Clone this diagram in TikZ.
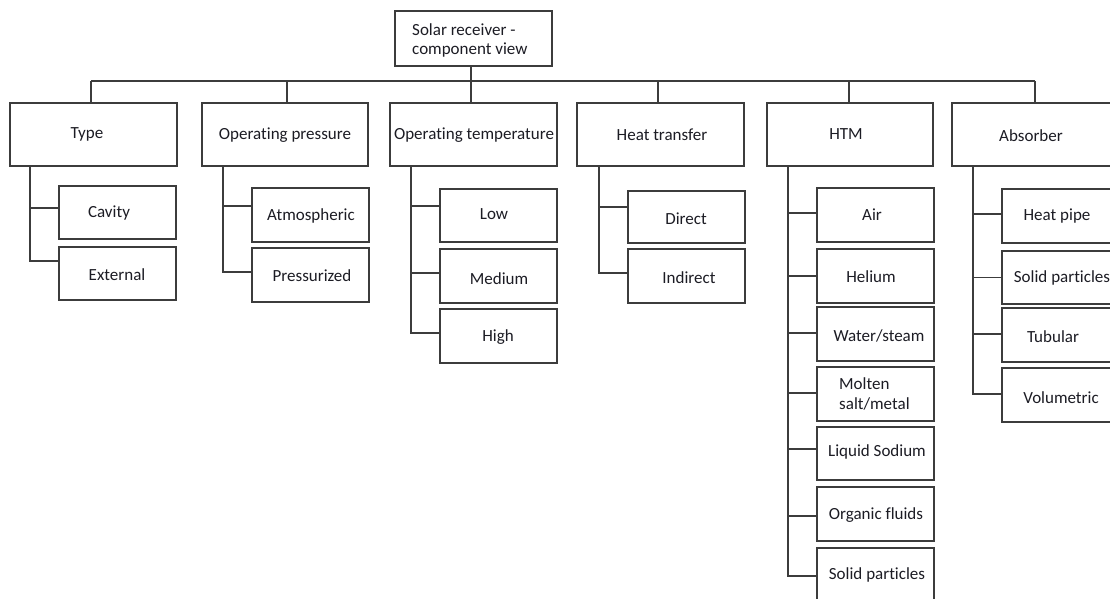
\documentclass[tikz,border=0pt]{standalone}
\usepackage{fontspec}
\setmainfont{Carlito}[Ligatures=NoCommon]
\definecolor{txtc}{RGB}{28,28,36}
\definecolor{lnc}{RGB}{60,60,60}
\begin{document}
\begin{tikzpicture}[x=1pt,y=-1pt,
  box/.style={draw=lnc, line width=1.3pt, inner sep=0pt, outer sep=0pt},
  lvl/.style={box, minimum width=167pt, minimum height=63pt},
  leaf/.style={box, minimum width=117pt},
  lbl/.style={text=txtc, font=\fontsize{17}{19.5}\selectfont, inner sep=0pt, align=center, yshift=-1.5pt},
  link/.style={draw=lnc, line width=1.3pt}]
\useasboundingbox (0,0) rectangle (1110,599);
\clip (0,0) rectangle (1110,599);
\fill[white] (0,0) rectangle (1110,599);

% root
\node[box, minimum width=157pt, minimum height=55pt] (root) at (473.5,38.5) {};
\node[lbl, align=left, anchor=west] (rootT) at (412,39) {Solar receiver -\\component view};

% level 1
\node[lvl] (type)  at (93.5,134.5) {};
\node[lvl, minimum width=166pt] (press) at (285,134.5) {};
\node[lvl] (temp)  at (473.5,134.5) {};
\node[lvl] (heat)  at (660.5,134.5) {};
\node[lvl, minimum width=166pt] (htm) at (850,134.5) {};
\node[lvl, minimum width=168pt] (abs) at (1036,134.5) {};

\node[lbl] (typeT)  at (87,133) {Type};
\node[lbl] (pressT) at (285,134) {Operating pressure};
\node[lbl] (tempT)  at (474,134) {Operating temperature};
\node[lbl] (heatT)  at (662,133) {Heat transfer};
\node[lbl] (htmT)   at (846,133) {HTM};
\node[lbl] (absT)   at (1031,134) {Absorber};

% bus
\coordinate (busL) at (91,81);
\coordinate (busR) at (1035,81);
\draw[link] (busL) -- (busR);
\draw[link] ([xshift=-2.5pt]root.south) -- ([xshift=-2.5pt]root.south |- busL);
\draw[link] ([xshift=-2.5pt]type.north) -- ([xshift=-2.5pt]type.north |- busL);
\draw[link] ([xshift=2pt]press.north) -- ([xshift=2pt]press.north |- busL);
\draw[link] ([xshift=-2.5pt]temp.north) -- ([xshift=-2.5pt]temp.north |- busL);
\draw[link] ([xshift=-2.5pt]heat.north) -- ([xshift=-2.5pt]heat.north |- busL);
\draw[link] ([xshift=-1pt]htm.north) -- ([xshift=-1pt]htm.north |- busL);
\draw[link] ([xshift=-1pt]abs.north) -- ([xshift=-1pt]abs.north |- busL);

% Type children
\node[leaf, minimum height=53pt] (cav) at (117.5,212.5) {};
\node[leaf, minimum height=53pt] (ext) at (117.5,273.5) {};
\node[lbl] (cavT) at (109,212) {Cavity};
\node[lbl] (extT) at (117,273) {External};
\draw[link] ([xshift=20pt]type.south west) |- ([yshift=4.5pt]cav.west);
\draw[link] ([xshift=20pt]type.south west) |- ([yshift=12.5pt]ext.west);

% Pressure children
\node[leaf, minimum height=54pt] (atm) at (310.5,215) {};
\node[leaf, minimum height=54pt] (prs) at (310.5,275) {};
\node[lbl] (atmT) at (311,214) {Atmospheric};
\node[lbl] (prsT) at (312,274) {Pressurized};
\draw[link] ([xshift=21pt]press.south west) |- ([yshift=9pt]atm.west);
\draw[link] ([xshift=21pt]press.south west) |- ([yshift=3pt]prs.west);

% Temperature children
\node[leaf, minimum height=53pt] (low) at (498.5,215.5) {};
\node[leaf, minimum height=54pt] (med) at (498.5,276) {};
\node[leaf, minimum height=54pt] (high) at (498.5,336) {};
\node[lbl] (lowT) at (494,213) {Low};
\node[lbl] (medT) at (499,277) {Medium};
\node[lbl] (highT) at (498,336) {High};
\draw[link] ([xshift=21pt]temp.south west) |- ([yshift=9.5pt]low.west);
\draw[link] ([xshift=21pt]temp.south west) |- ([yshift=3pt]med.west);
\draw[link] ([xshift=21pt]temp.south west) |- ([yshift=3pt]high.west);

% Heat transfer children
\node[leaf, minimum height=52pt] (dir) at (686.5,217) {};
\node[leaf, minimum height=54pt] (ind) at (686.5,276) {};
\node[lbl] (dirT) at (686,217) {Direct};
\node[lbl] (indT) at (689,276) {Indirect};
\draw[link] ([xshift=22pt]heat.south west) |- ([yshift=10pt]dir.west);
\draw[link] ([xshift=22pt]heat.south west) |- ([yshift=3pt]ind.west);

% HTM children
\node[leaf, minimum height=54pt] (air) at (875.5,215) {};
\node[leaf, minimum height=54pt] (hel) at (875.5,276) {};
\node[leaf, minimum height=54pt] (wat) at (875.5,334) {};
\node[leaf, minimum height=54pt] (mol) at (875.5,394) {};
\node[leaf, minimum height=53pt] (liq) at (875.5,453.5) {};
\node[leaf, minimum height=54pt] (org) at (875.5,514) {};
\node[leaf, minimum height=54pt] (sol) at (875.5,575) {};
\node[lbl] (airT) at (872,213) {Air};
\node[lbl] (helT) at (871,275) {Helium};
\node[lbl] (watT) at (879,334) {Water/steam};
\node[lbl, align=left, anchor=west] (molT) at (839,392.5) {Molten\\salt/metal};
\node[lbl] (liqT) at (877,450) {Liquid Sodium};
\node[lbl] (orgT) at (876,514) {Organic fluids};
\node[lbl] (solT) at (877,573) {Solid particles};
\draw[link] ([xshift=21pt]htm.south west) |- ([yshift=2pt]air.west);
\draw[link] ([xshift=21pt]htm.south west) |- (hel.west);
\draw[link] ([xshift=21pt]htm.south west) |- ([yshift=1pt]wat.west);
\draw[link] ([xshift=21pt]htm.south west) |- ([yshift=1pt]mol.west);
\draw[link] ([xshift=21pt]htm.south west) |- ([yshift=4.5pt]liq.west);
\draw[link] ([xshift=21pt]htm.south west) |- ([yshift=-2pt]org.west);
\draw[link] ([xshift=21pt]htm.south west) |- ([yshift=-1pt]sol.west);

% Absorber children
\node[leaf, minimum height=54pt] (hp) at (1060.5,216) {};
\node[leaf, minimum height=53pt] (sp) at (1060.5,277.5) {};
\node[leaf, minimum height=54pt] (tub) at (1060.5,335) {};
\node[leaf, minimum height=54pt] (vol) at (1060.5,395) {};
\node[lbl] (hpT) at (1057,215) {Heat pipe};
\node[lbl] (spT) at (1062,276) {Solid particles};
\node[lbl] (tubT) at (1053,335) {Tubular};
\node[lbl] (volT) at (1061,396) {Volumetric};
\draw[link] ([xshift=21pt]abs.south west) |- ([yshift=2pt]hp.west);
\draw[link] ([xshift=21pt]abs.south west) |- (sp.west);
\draw[link] ([xshift=21pt]abs.south west) |- ([yshift=1pt]tub.west);
\draw[link] ([xshift=21pt]abs.south west) |- ([yshift=1pt]vol.west);
\end{tikzpicture}
\end{document}
